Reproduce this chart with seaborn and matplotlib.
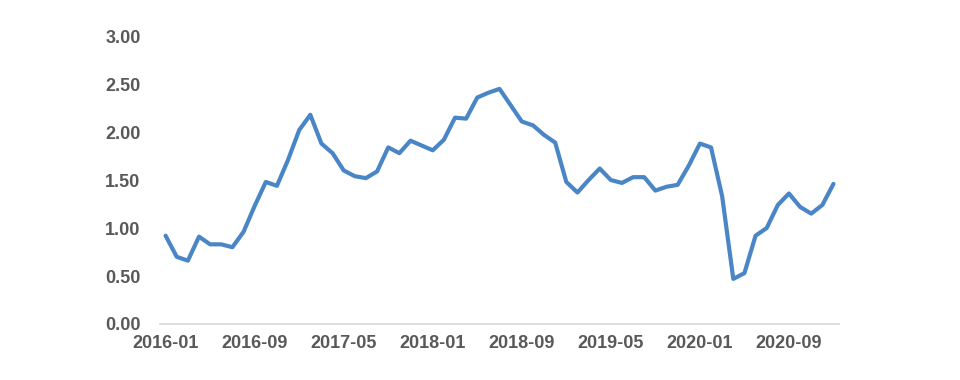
import seaborn as sns
import matplotlib.pyplot as plt
import pandas as pd

# monthly values, 2016-01 .. 2021-01
months = [str(p) for p in pd.period_range("2016-01", "2021-01", freq="M")]
values = [0.92, 0.70, 0.66, 0.91, 0.83, 0.83, 0.80, 0.96, 1.23, 1.48,
          1.44, 1.71, 2.02, 2.18, 1.88, 1.78, 1.60, 1.54, 1.52, 1.59,
          1.84, 1.78, 1.91, 1.86, 1.81, 1.92, 2.15, 2.14, 2.36, 2.41,
          2.45, 2.28, 2.11, 2.07, 1.97, 1.89, 1.48, 1.37, 1.50, 1.62,
          1.50, 1.47, 1.53, 1.53, 1.39, 1.43, 1.45, 1.65, 1.88, 1.84,
          1.33, 0.47, 0.53, 0.92, 1.00, 1.24, 1.36, 1.22, 1.15, 1.24,
          1.46]
y_ticks = [0, 0.5, 1.0, 1.5, 2.0, 2.5, 3.0]

df = pd.DataFrame({"pos": range(len(months)), "month": months, "value": values})

sns.set_style("white")
plt.rcParams['font.family'] = ['Liberation Sans', 'DejaVu Sans']

fig = plt.figure(figsize=(9.6, 3.8), dpi=100)
ax = fig.add_axes([0.1667, 0.1474, 0.7073, 0.7576])

sns.lineplot(data=df, x="pos", y="value", ax=ax, color="#4a86c6", linewidth=3)

txt = "#595959"
ax.set_xlim(-0.5, len(months) - 0.5)
ax.set_ylim(0, 3)
ax.set_yticks(y_ticks)
ax.set_yticklabels([f"{v:.2f}" for v in y_ticks])
ax.set_xticks(df["pos"][::8])
ax.set_xticklabels(df["month"][::8])
ax.set_xticks([p - 0.5 for p in df["pos"][::8]], minor=True)
ax.tick_params(axis="x", which="major", length=0, pad=8, labelsize=13, labelcolor=txt)
ax.tick_params(axis="x", which="minor", length=5, width=1, color="#d9d9d9", direction="out")
ax.tick_params(axis="y", length=0, pad=14, labelsize=13, labelcolor=txt)
for lab in ax.get_xticklabels() + ax.get_yticklabels():
    lab.set_fontweight("bold")
ax.set_xlabel("")
ax.set_ylabel("")
for s in ["top", "right", "left"]:
    ax.spines[s].set_visible(False)
ax.spines["bottom"].set_color("#d9d9d9")
ax.spines["bottom"].set_linewidth(1.2)

fig.savefig("out.png", dpi=100)
